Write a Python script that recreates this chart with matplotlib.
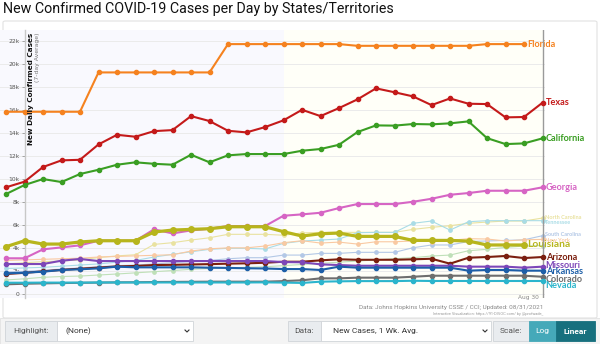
import numpy as np
import matplotlib.pyplot as plt
from matplotlib.patches import FancyBboxPatch, Rectangle
from matplotlib.lines import Line2D

# Days of August 2021 (7-day average of new cases, thousands)
days = np.arange(1, 31)

florida = [15.87, 15.87, 15.87, 15.87, 15.87, 19.3, 19.3, 19.3, 19.3, 19.3,
           19.3, 19.3, 21.77, 21.77, 21.77, 21.77, 21.77, 21.77, 21.77, 21.62,
           21.62, 21.62, 21.62, 21.62, 21.62, 21.62, 21.77, 21.77, 21.77]
texas = [9.28, 9.77, 11.05, 11.63, 11.68, 13.02, 13.86, 13.69, 14.18, 14.27,
         15.49, 15.06, 14.21, 14.07, 14.53, 15.12, 16.04, 15.49, 16.19, 16.95,
         17.91, 17.57, 17.21, 16.45, 17.03, 16.57, 16.54, 15.38, 15.41, 16.66]
california = [8.69, 9.48, 10.0, 9.74, 10.44, 10.81, 11.25, 11.46, 11.33, 11.25,
              12.12, 11.46, 12.07, 12.18, 12.18, 12.18, 12.47, 12.62, 12.99, 14.10,
              14.68, 14.66, 14.80, 14.77, 14.86, 15.03, 13.57, 13.05, 13.11, 13.55]
georgia = [3.09, 3.09, 3.87, 4.04, 4.22, 4.62, 4.62, 4.62, 5.61, 5.26,
           5.52, 5.67, 5.90, 5.90, 5.90, 6.80, 6.92, 7.06, 7.47, 7.82,
           7.82, 7.82, 8.02, 8.28, 8.63, 8.78, 8.98, 8.98, 8.98, 9.28]
louisiana = [4.10, 4.62, 4.33, 4.33, 4.51, 4.62, 4.62, 4.62, 5.38, 5.55,
             5.61, 5.67, 5.84, 5.84, 5.84, 5.41, 5.03, 5.23, 5.29, 5.00,
             5.00, 5.00, 4.65, 4.65, 4.65, 4.59, 4.25, 4.25, 4.25]
arizona = [1.72, 1.82, 1.95, 2.08, 2.18, 2.28, 2.38, 2.42, 2.50, 2.52,
           2.55, 2.58, 2.62, 2.65, 2.70, 2.79, 2.79, 2.91, 3.00, 2.96,
           2.96, 2.96, 3.00, 3.05, 2.62, 3.14, 3.20, 3.29, 3.11, 3.20]
missouri = [2.59, 2.59, 2.59, 2.88, 3.03, 2.85, 2.85, 2.85, 2.85, 2.85,
            2.85, 2.85, 2.85, 2.85, 2.85, 2.76, 2.74, 2.56, 2.50, 2.44,
            2.44, 2.44, 2.44, 2.44, 2.44, 2.36, 2.36, 2.36, 2.27, 2.36]
arkansas = [1.78, 1.83, 1.92, 2.07, 2.13, 2.21, 2.36, 2.30, 2.30, 2.30,
            2.30, 2.27, 2.25, 2.22, 2.20, 2.15, 2.15, 2.07, 2.36, 2.27,
            2.27, 2.27, 2.27, 2.27, 2.27, 2.01, 2.07, 2.07, 2.01, 2.01]
colorado = [0.82, 0.87, 0.90, 0.93, 0.95, 0.97, 0.99, 1.00, 1.02, 1.03,
            1.04, 1.05, 1.05, 1.05, 1.05, 1.10, 1.17, 1.34, 1.34, 1.40,
            1.40, 1.40, 1.48, 1.57, 1.57, 1.57, 1.57, 1.57, 1.57, 1.48]
nevada = [0.96, 0.96, 0.97, 0.97, 0.97, 0.98, 0.98, 0.98, 0.98, 0.98,
          0.98, 0.98, 0.98, 0.98, 0.99, 0.97, 0.94, 1.05, 1.08, 1.10,
          1.10, 1.10, 1.13, 1.11, 1.11, 1.11, 1.11, 1.11, 1.11, 1.11]

# faint background states
north_carolina = [2.60, 2.70, 2.80, 2.85, 2.95, 3.15, 3.30, 3.40, 4.30, 4.45,
                  4.68, 4.88, 5.18, 5.18, 5.18, 5.10, 5.30, 5.35, 5.35, 5.35,
                  5.35, 5.35, 5.61, 5.79, 5.93, 6.14, 6.25, 6.34, 6.34, 6.60]
tennessee = [2.20, 2.25, 2.30, 2.40, 2.50, 2.60, 2.75, 2.90, 3.20, 3.43,
             3.66, 3.87, 3.96, 3.96, 3.90, 4.39, 4.59, 4.68, 4.77, 5.32,
             5.35, 5.35, 6.14, 6.34, 5.55, 6.28, 6.37, 6.37, 6.37, 6.37]
south_carolina = [1.90, 1.95, 2.05, 2.15, 2.25, 2.35, 2.45, 2.50, 2.60, 2.70,
                  2.80, 2.90, 3.05, 3.14, 3.14, 3.37, 3.37, 3.52, 3.52, 3.61,
                  3.61, 3.61, 4.01, 4.25, 4.25, 4.55, 4.60, 4.65, 4.70, 5.06]
new_york = [2.90, 2.95, 3.00, 3.05, 3.10, 3.20, 3.25, 3.30, 3.35, 3.40,
            3.72, 3.92, 4.00, 4.00, 4.16, 4.45, 4.62, 4.42, 4.50, 4.33,
            4.53, 4.53, 4.60, 4.55, 4.65, 4.80, 4.77, 4.60, 4.70, 4.74]
other_state = [1.20, 1.30, 1.43, 1.50, 1.54, 1.63, 1.72, 1.82, 1.92, 2.02,
               2.13, 2.20, 2.25, 2.30, 2.35, 2.45, 2.55, 2.65, 2.75, 2.85,
               2.95, 3.05, 3.14, 3.29, 3.37, 3.75, 3.87, 4.04, 4.16, 4.20]

main_states = [
    ("Texas", texas, "#c41a1a", 0),
    ("California", california, "#3a9e23", 0),
    ("Georgia", georgia, "#d665c4", 0),
    ("Arizona", arizona, "#7b1f0e", 0),
    ("Missouri", missouri, "#7d47b8", 0.6),
    ("Arkansas", arkansas, "#1d5fa8", -0.9),
    ("Colorado", colorado, "#6e6e6e", -1.9),
    ("Nevada", nevada, "#2bb5cc", -3.2),
    ("Florida", florida, "#f5821f", 0),
]
faint_states = [
    ("North Carolina", north_carolina, "#e9e2a0", 0.7),
    ("Tennessee", tennessee, "#a9dce6", -1.0),
    ("South Carolina", south_carolina, "#b3c8e6", 0.8),
    ("New York", new_york, "#f9c9a2", -1.0),
    ("", other_state, "#bfe0b8", 0),
]

W, H = 600, 344
fig = plt.figure(figsize=(6, 3.44), dpi=100)

def fx(px):
    return px / W

def fy(py):
    return 1 - py / H

# chart card + control bar
fig.patches.append(FancyBboxPatch((fx(3), fy(318)), fx(594), 297 / H,
                                  boxstyle="round,pad=0,rounding_size=0.004",
                                  transform=fig.transFigure, fc="white",
                                  ec="#e2e2e2", lw=0.8, zorder=-2))
fig.patches.append(Rectangle((0, 0), 1, fy(318), transform=fig.transFigure,
                             fc="#f4f4f4", ec="#e2e2e2", lw=0.6, zorder=-2))

fig.text(fx(3), fy(9), "New Confirmed COVID-19 Cases per Day by States/Territories",
         family="Roboto", fontsize=10.3, va="center", ha="left", color="#111111")

ax = fig.add_axes([0, fy(298.3), fx(545), (298.3 - 30) / H])
ax.set_zorder(2)
ax.set_xlim(1 - 6 / 18.5, 1 + 539 / 18.5)
ax.set_ylim(-0.4, 23)
ax.axvspan(ax.get_xlim()[0], 16, color="#f9f9fe", lw=0, zorder=0)
ax.axvspan(16, 30, color="#fffff8", lw=0, zorder=0)
ax.patch.set_alpha(0)

for name, vals, col, nudge in faint_states:
    ax.plot(days[:len(vals)], vals, color=col, lw=0.8, marker="o", ms=2.4,
            zorder=2, clip_on=False)
    if name:
        ax.annotate(name, (days[len(vals) - 1], vals[-1]), xytext=(2, nudge),
                    textcoords="offset points", va="center", ha="left",
                    fontsize=4.0, color=col, family="Lato", fontweight="bold",
                    annotation_clip=False)

for name, vals, col, nudge in main_states:
    ax.plot(days[:len(vals)], vals, color=col, lw=1.5, marker="o", ms=3.0,
            zorder=4, clip_on=False)
    ax.annotate(name, (days[len(vals) - 1], vals[-1]), xytext=(2.2, nudge),
                textcoords="offset points", va="center", ha="left",
                fontsize=6.6, color=col, family="Lato", fontweight="bold",
                annotation_clip=False)

ax.plot(days[:len(louisiana)], louisiana, color="#b7b51c", lw=2.3, marker="o",
        ms=4.0, zorder=5, clip_on=False)
ax.annotate("Louisiana", (days[len(louisiana) - 1], louisiana[-1]), xytext=(2.5, 0),
            textcoords="offset points", va="center", ha="left", fontsize=7.4,
            color="#b7b51c", family="Lato", fontweight="bold", annotation_clip=False)

# axes styling
ax.axvline(30, color="#9a9a9a", lw=1.0, zorder=3)
for s in ["top", "right", "bottom"]:
    ax.spines[s].set_visible(False)
ax.spines["left"].set_position(("axes", 25 / 545))
ax.spines["left"].set_color("#c8c8c8")
ax.spines["left"].set_linewidth(1.0)
yt = np.arange(0, 23, 2)
ax.set_yticks(yt)
ax.set_yticklabels(["0"] + [f"{v}k" for v in yt[1:]])
ax.tick_params(axis="y", length=2.2, width=0.6, color="#999999", labelsize=4.3,
               labelcolor="#555555", pad=1.5)
ax.set_xticks([])
ax.grid(axis="y", color="#ebebeb", lw=0.7)
ax.set_axisbelow(True)

ax.annotate("Aug 30", (30, -0.4), xytext=(-2.5, 0.6), textcoords="offset points",
            ha="right", va="center", fontsize=4.2, color="#888888",
            annotation_clip=False)

fig.text(fx(30.5), fy(33), "New Daily Confirmed Cases", rotation=90, ha="center",
         va="top", fontsize=5.2, fontweight="bold", color="#111111", zorder=5)
fig.text(fx(37.5), fy(33), "(7-day Average)", rotation=90, ha="center",
         va="top", fontsize=4.4, color="#777777", zorder=5)

fig.text(fx(543), fy(308), "Data: Johns Hopkins University CSSE / CCI; Updated: 08/31/2021",
         ha="right", va="center", fontsize=4.6, color="#8a8a8a", family="Roboto")
fig.text(fx(543), fy(314), "Interactive Visualization: https://91-DIVOC.com/ by @profwade_",
         ha="right", va="center", fontsize=2.8, color="#9a9a9a", family="Roboto")

# controls row
def box(x0, x1, fc, ec="#d0d4d8"):
    fig.patches.append(Rectangle((fx(x0), fy(341)), fx(x1 - x0), 20 / H,
                                 transform=fig.transFigure, fc=fc, ec=ec, lw=0.6))

def label(x, text, color="#555555", ha="left", weight="normal"):
    fig.text(fx(x), fy(331), text, ha=ha, va="center", fontsize=6.0,
             color=color, family="Roboto", fontweight=weight)

def chevron(x):
    fig.lines.append(Line2D([fx(x - 2), fx(x), fx(x + 2)], [fy(330), fy(332), fy(330)],
                            transform=fig.transFigure, color="#333333", lw=0.8))

box(5, 57, "#e9ecef")
box(57, 193, "white")
label(31, "Highlight:", ha="center")
label(66, "(None)", color="#333333")
chevron(187)
box(288, 321, "#e9ecef")
box(321, 491, "white")
label(304.5, "Data:", ha="center")
label(333, "New Cases, 1 Wk. Avg.", color="#333333")
chevron(485)
box(493, 529, "#e9ecef")
label(511, "Scale:", ha="center")
box(529, 556, "#45a9b9", ec="#45a9b9")
box(556, 595, "#17707e", ec="#17707e")
label(542.5, "Log", color="white", ha="center")
label(575.5, "Linear", color="white", ha="center", weight="bold")

fig.savefig("out.png", dpi=100)
